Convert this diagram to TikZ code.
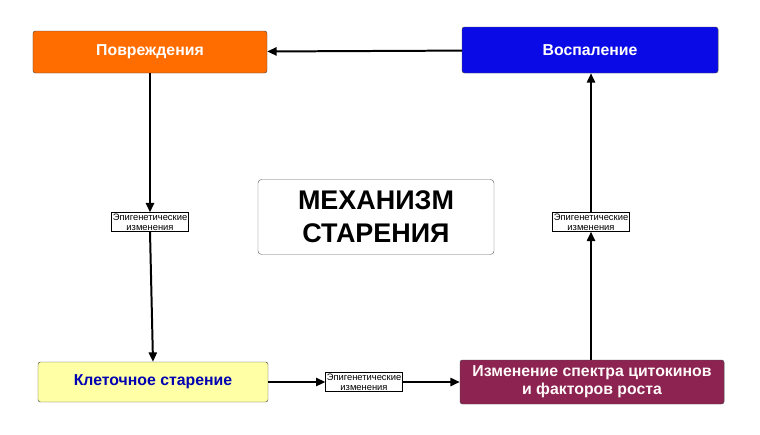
\documentclass[tikz,border=0pt]{standalone}
\usepackage{fontspec}
\setmainfont{Liberation Sans}
\usetikzlibrary{arrows.meta}
\begin{document}
\begin{tikzpicture}
			[x=0.03cm,y=-0.03cm,
			%Styles
			stagebox/.style={draw=black!70,rounded corners=2pt,minimum height=1.26cm,
				font=\bfseries\fontsize{13.5}{15.5}\selectfont,align=center},
			epinote/.style={draw,fill=white,inner sep=1pt,font=\fontsize{8}{8.5}\selectfont,align=center},
			flow/.style={-{Triangle[length=8pt,width=7pt]},line width=1.7pt}
			]
			\useasboundingbox[fill=white] (0,0) rectangle (760,434);
			
			%Colors
			\colorlet{damagecolor}{orange!85!red}
			\definecolor{inflamcolor}{RGB}{10,10,230}
			\definecolor{cellcolor}{RGB}{255,255,165}
			\definecolor{cytocolor}{RGB}{140,35,80}
			
			%The graphic
			\node[stagebox,fill=damagecolor,text=white,minimum width=7.02cm] (damage) at (150,52) {Повреждения};
			\node[stagebox,fill=inflamcolor,text=white,minimum width=7.68cm,minimum height=1.38cm] (inflam) at (590,50) {Воспаление};
			\node[stagebox,fill=cellcolor,text=blue!70!black,minimum width=6.9cm,minimum height=1.2cm] (cell) at (153,382) {Клеточное старение};
			\node[stagebox,fill=cytocolor,text=white!90!pink,minimum width=7.92cm,minimum height=1.32cm] (cyto) at (592,382)
				{Изменение спектра цитокинов\\и факторов роста};
			
			\node[draw=black!60,rounded corners=3pt,minimum width=7.08cm,minimum height=2.25cm,
				font=\bfseries\fontsize{23}{28}\selectfont,align=center] (title) at (376,217) {МЕХАНИЗМ\\СТАРЕНИЯ};
			
			\node[epinote] (epileft) at (150,222) {Эпигенетические\\изменения};
			\node[epinote] (epiright) at (591,222) {Эпигенетические\\изменения};
			\node[epinote] (epibottom) at (364,382) {Эпигенетические\\изменения};
			
			\draw[flow] (inflam) -- (damage);
			\draw[flow] (damage.south) -- (epileft.north);
			\draw[flow] (epileft.south) -- (cell.north);
			\draw[flow] (cell) -- (epibottom);
			\draw[flow] (epibottom) -- (cyto);
			\draw[flow] (cyto.north -| epiright) -- (epiright.south);
			\draw[flow] (epiright.north) -- (inflam.south -| epiright);
		\end{tikzpicture}
\end{document}
